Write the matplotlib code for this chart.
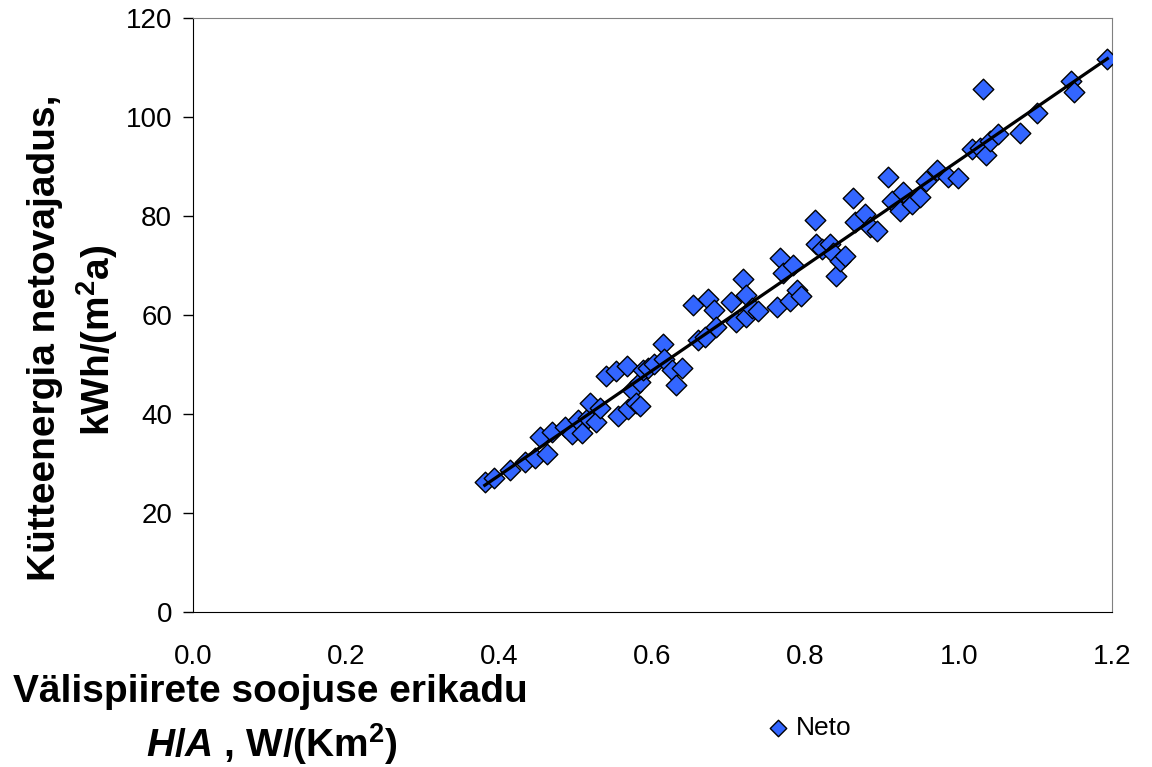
import numpy as np
import matplotlib.pyplot as plt

plt.rcParams['font.family'] = ['Liberation Sans', 'DejaVu Sans']
plt.rcParams['mathtext.fontset'] = 'custom'
plt.rcParams['mathtext.rm'] = 'Liberation Sans:bold'
plt.rcParams['mathtext.it'] = 'Liberation Sans:italic:bold'
plt.rcParams['mathtext.bf'] = 'Liberation Sans:bold'
plt.rcParams['mathtext.default'] = 'rm'

# H/A, W/(Km2)
ha = [0.381, 0.393, 0.414, 0.434, 0.447, 0.453, 0.462, 0.469, 0.486, 0.495,
      0.503, 0.508, 0.516, 0.518, 0.526, 0.531, 0.539, 0.552, 0.555, 0.567,
      0.568, 0.573, 0.578, 0.584, 0.588, 0.584, 0.594, 0.602, 0.614, 0.615,
      0.626, 0.631, 0.639, 0.653, 0.659, 0.668, 0.672, 0.680, 0.683, 0.703,
      0.709, 0.718, 0.722, 0.722, 0.730, 0.738, 0.763, 0.766, 0.770, 0.780,
      0.784, 0.789, 0.794, 0.812, 0.814, 0.821, 0.832, 0.836, 0.840, 0.845,
      0.851, 0.862, 0.864, 0.878, 0.884, 0.893, 0.908, 0.913, 0.923, 0.927,
      0.939, 0.949, 0.957, 0.972, 0.986, 0.999, 1.017, 1.028, 1.032, 1.036,
      1.041, 1.051, 1.080, 1.102, 1.146, 1.150, 1.194]
# netovajadus kWh/(m2a)
neto = [26.3, 27.1, 28.7, 30.3, 31.1, 35.4, 32.0, 36.4, 37.4, 36.0,
        38.8, 36.2, 39.2, 42.3, 38.4, 41.2, 47.7, 48.7, 39.6, 49.8,
        41.0, 44.9, 42.3, 46.5, 48.9, 41.6, 49.3, 50.1, 54.2, 51.2,
        48.9, 45.9, 49.3, 62.0, 55.0, 55.6, 63.2, 61.0, 57.6, 62.6,
        58.6, 67.4, 64.0, 59.6, 61.5, 60.9, 61.7, 71.6, 68.5, 62.9,
        70.2, 65.1, 63.9, 79.3, 74.5, 73.4, 74.4, 72.6, 67.9, 71.0,
        72.0, 83.7, 78.9, 80.5, 77.8, 77.0, 88.0, 83.0, 81.1, 85.0,
        82.5, 84.0, 87.2, 89.3, 88.0, 87.8, 93.6, 93.8, 105.8, 92.4,
        95.2, 96.6, 96.8, 100.9, 107.4, 105.2, 111.8]

x = np.array(ha)
y = np.array(neto)
k, b = np.polyfit(x, y, 1)
xl = np.array([x.min(), x.max()])

fig = plt.figure(figsize=(11.52, 7.67), dpi=100)
ax = fig.add_axes([0.1675, 0.2021, 0.7978, 0.7738])

ax.scatter(x, y, marker='D', s=110, color='#3366FF', edgecolor='black',
           linewidth=1, zorder=3, label='Neto')
ax.plot(xl, k * xl + b, color='black', lw=2.3, zorder=4)

ax.set_xlim(0, 1.2)
ax.set_ylim(0, 120)
ax.set_xticks(np.arange(0, 1.21, 0.2))
ax.set_xticklabels(['%.1f' % v for v in np.arange(0, 1.21, 0.2)])
ax.set_yticks(range(0, 121, 20))
ax.tick_params(axis='y', direction='out', length=7, width=1, labelsize=20, pad=8)
ax.tick_params(axis='x', direction='out', length=0, labelsize=20, pad=23)
for s in ['top', 'right']:
    ax.spines[s].set_color('#808080')

fig.text(270 / 1152, 1 - 692 / 767, 'Välispiirete soojuse erikadu',
         ha='center', va='center', fontsize=28, fontweight='bold')
fig.text(272 / 1152, 1 - 744 / 767, r'$\it{H/A}$ , W/(Km$^2$)',
         ha='center', va='center', fontsize=28, fontweight='bold')
fig.text(45 / 1152, 1 - 338 / 767, 'Kütteenergia netovajadus,',
         rotation=90, ha='center', va='center', fontsize=28, fontweight='bold')
fig.text(97 / 1152, 1 - 340 / 767, 'kWh/(m$^2$a)',
         rotation=90, ha='center', va='center', fontsize=28, fontweight='bold')

fig.legend(loc='center', bbox_to_anchor=(808 / 1152, 1 - 728 / 767),
           frameon=False, fontsize=19, handlelength=1.0, handletextpad=0.2,
           markerscale=0.8)

fig.savefig('out.png', dpi=100)
